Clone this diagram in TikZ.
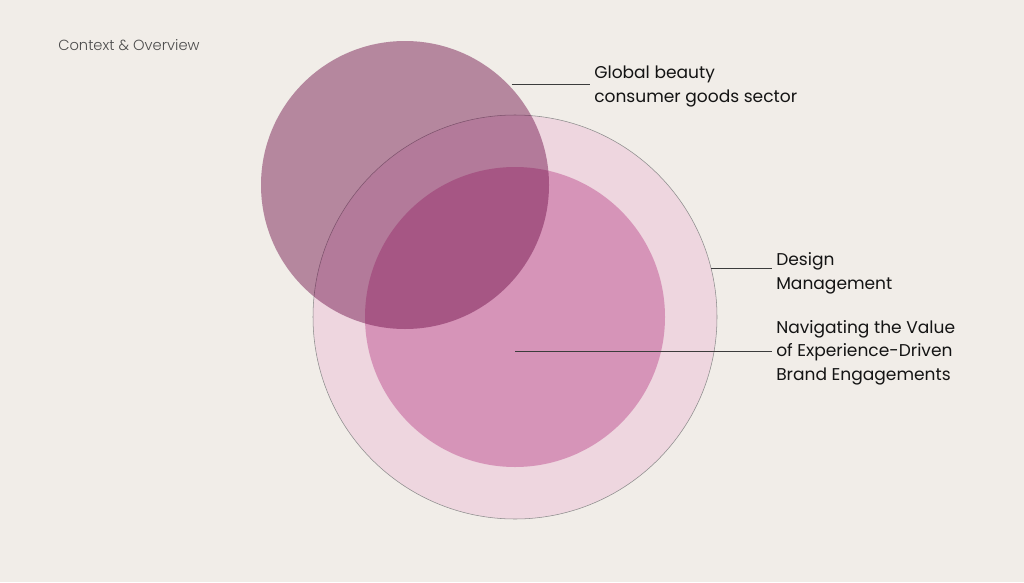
\documentclass[tikz,border=0pt]{standalone}
\usepackage{fontspec}
\setmainfont{Poppins}
\newfontfamily\lightfont{Poppins Light}
\usepackage{xcolor}
\usetikzlibrary{calc}

\definecolor{cream}{RGB}{241,237,232}
\definecolor{blush}{RGB}{238,214,223}
\definecolor{rosepink}{RGB}{214,148,184}
\definecolor{plum}{RGB}{108,12,70}
\definecolor{inkline}{RGB}{60,60,60}

\tikzset{
  ring/.style={circle, inner sep=0pt},
  label text/.style={anchor=base west, align=left, inner xsep=3pt, inner ysep=0pt,
    font=\fontsize{12.8pt}{17.4pt}\selectfont, text=black!92},
  leader/.style={draw=inkline, line width=0.5pt}
}

\begin{document}
\begin{tikzpicture}[x=0.75pt, y=-0.75pt]
  % page and background
  \useasboundingbox (0,0) rectangle (1024,582);
  \fill[cream] (0,0) rectangle (1024,582);

  % title
  \node[anchor=base west, inner sep=0pt, text=black!70, font=\lightfont\fontsize{11pt}{13pt}\selectfont]
    (title) at (58,50) {Context \& Overview};

  % circles
  \node[ring, fill=blush, draw=black!45, line width=0.4pt, minimum size=303pt] (design) at (515,317) {};
  \node[ring, fill=rosepink, minimum size=225pt] (value) at (515,317) {};
  \node[ring, fill=plum, fill opacity=0.45, minimum size=216pt] (beauty) at (405,185) {};

  % labels (base = last line)
  \node[label text] (beautytext) at (590,102) {Global beauty\\consumer goods sector};
  \node[label text] (designtext) at (772,289) {Design\\Management};
  \node[label text] (valuetext) at (772,380) {Navigating the Value\\of Experience-Driven\\Brand Engagements};

  % leader lines
  \coordinate (beautyend) at ($(beauty.center)+(43.3:110pt)$);
  \coordinate (designend) at ($(design.center)+(14:151.5pt)$);
  \coordinate (valueend) at (515,351);
  \draw[leader] (beautyend) -- (beautytext.west |- beautyend);
  \draw[leader] (designend) -- (designtext.west |- designend);
  \draw[leader] (valueend) -- (valuetext.west |- valueend);
\end{tikzpicture}
\end{document}
